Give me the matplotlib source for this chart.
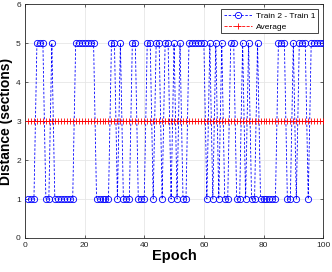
import matplotlib
matplotlib.use("Agg")
import matplotlib.pyplot as plt
import numpy as np

plt.rcParams['font.family'] = ['Liberation Sans', 'DejaVu Sans']

epochs = list(range(1, 101))
diff_values = [
    1, 1, 1, 5, 5, 5, 1, 1, 5, 1,      # 1-10
    1, 1, 1, 1, 1, 1, 5, 5, 5, 5,      # 11-20
    5, 5, 5, 1, 1, 1, 1, 1, 5, 5,      # 21-30
    1, 5, 1, 1, 1, 5, 5, 1, 1, 1,      # 31-40
    5, 5, 1, 5, 5, 1, 5, 5, 1, 5,      # 41-50
    1, 5, 1, 1, 5, 5, 5, 5, 5, 5,      # 51-60
    1, 5, 1, 5, 1, 5, 1, 1, 5, 5,      # 61-70
    1, 1, 5, 1, 5, 1, 1, 5, 1, 1,      # 71-80
    1, 1, 1, 1, 5, 5, 5, 1, 1, 5,      # 81-90
    1, 5, 5, 5, 1, 5, 5, 5, 5, 5,      # 91-100
]
average_value = 3.0
average_values = [average_value] * len(epochs)

series_labels = ["Train 2 - Train 1", "Average"]
x_ticks = [0, 20, 40, 60, 80, 100]
y_ticks = [0, 1, 2, 3, 4, 5, 6]

fig = plt.figure(figsize=(3.32, 2.72), dpi=100)
ax = fig.add_axes([0.0753, 0.125, 0.898, 0.86])

ax.plot(epochs, diff_values, linestyle="--", color="#0000FF", linewidth=0.6,
        dashes=(3, 2),
        marker="o", markersize=4.5, markerfacecolor="none",
        markeredgewidth=0.6, label=series_labels[0], zorder=3)
ax.plot(epochs, average_values, linestyle="--", color="#FF0000", linewidth=0.6,
        marker="+", markersize=5, markeredgewidth=0.6,
        label=series_labels[1], zorder=4)

ax.set_xlim(0, 100)
ax.set_ylim(0, 6)
ax.set_xticks(x_ticks)
ax.set_yticks(y_ticks)
ax.tick_params(direction="in", length=2.5, width=0.5, labelsize=6,
               colors="#262626", top=True, right=True,
               labeltop=False, labelright=False, pad=3)
ax.grid(True, color="#E6E6E6", linewidth=0.6)
ax.set_axisbelow(True)
for s in ax.spines.values():
    s.set_color("#262626")
    s.set_linewidth(0.6)

ax.set_xlabel("Epoch", fontsize=10.5, fontweight="bold", labelpad=0)
ax.set_ylabel("Distance (sections)", fontsize=10, fontweight="bold", labelpad=2)

leg = ax.legend(loc="upper right", fontsize=6, frameon=True, fancybox=False,
                edgecolor="#262626", framealpha=1, borderpad=0.35,
                handlelength=3.4, handletextpad=0.4, labelspacing=0.35,
                borderaxespad=0.6)
leg.get_frame().set_linewidth(0.6)

fig.savefig("out.png", dpi=100)
